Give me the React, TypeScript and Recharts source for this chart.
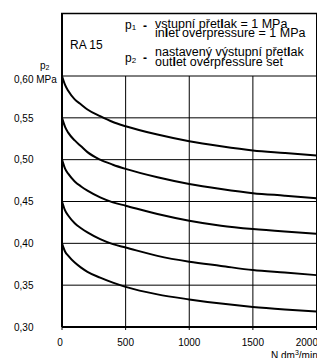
import React from 'react';
import { LineChart, Line, XAxis, YAxis, CartesianGrid } from 'recharts';

const FONT = '"Liberation Sans", Arial, Helvetica, sans-serif';

// flow rate (N dm3/min)
const flow = [0, 25, 50, 100, 150, 200, 300, 400, 500, 750, 1000, 1250, 1500, 1750, 2000];
// outlet pressure p2 (MPa) for each set value
const p060 = [0.600, 0.589, 0.582, 0.572, 0.566, 0.560, 0.552, 0.545, 0.540, 0.530, 0.522, 0.516, 0.511, 0.508, 0.505];
const p055 = [0.550, 0.539, 0.532, 0.523, 0.516, 0.509, 0.500, 0.494, 0.489, 0.479, 0.471, 0.465, 0.460, 0.457, 0.454];
const p050 = [0.500, 0.489, 0.483, 0.474, 0.468, 0.463, 0.455, 0.449, 0.445, 0.435, 0.427, 0.421, 0.417, 0.414, 0.4115];
const p045 = [0.450, 0.439, 0.433, 0.424, 0.418, 0.413, 0.405, 0.399, 0.395, 0.385, 0.378, 0.373, 0.368, 0.365, 0.362];
const p040 = [0.400, 0.390, 0.385, 0.377, 0.371, 0.366, 0.359, 0.353, 0.348, 0.339, 0.333, 0.328, 0.324, 0.321, 0.3185];

const xTicks = [0, 500, 1000, 1500, 2000];
const xTickLabels = ['0', '500', '1000', '1500', '2000'];
const yTicks = [0.3, 0.35, 0.4, 0.45, 0.5, 0.55, 0.6];
const yTickLabels = ['0,30', '0,35', '0,40', '0,45', '0,50', '0,55', '0,60 MPa'];

const seriesKeys = ['p060', 'p055', 'p050', 'p045', 'p040'];
const seriesValues = [p060, p055, p050, p045, p040];

const data = flow.map((f, i) => {
  const row: Record<string, number> = { flow: f };
  seriesKeys.forEach((k, j) => {
    row[k] = seriesValues[j][i];
  });
  return row;
});

const YTick = (props: any) => {
  const { y, payload } = props;
  const idx = yTicks.findIndex((t) => Math.abs(t - payload.value) < 1e-6);
  const label = idx >= 0 ? yTickLabels[idx] : String(payload.value);
  const extra = idx === yTicks.length - 1 ? 2.7 : 0;
  return (
    <text x={14} y={y + 3.8 + extra} fontSize={10} fontFamily={FONT} fill="#000" textAnchor="start">
      {label}
    </text>
  );
};

const XTick = (props: any) => {
  const { x, y, payload } = props;
  const idx = xTicks.indexOf(payload.value);
  const label = idx >= 0 ? xTickLabels[idx] : String(payload.value);
  const isLast = idx === xTicks.length - 1;
  const isFirst = idx === 0;
  return (
    <text
      x={isLast ? 318 : isFirst ? x - 2 : x}
      y={345.5}
      fontSize={10}
      fontFamily={FONT}
      fill="#000"
      textAnchor={isLast ? 'end' : 'middle'}
    >
      {label}
    </text>
  );
};

export default function App() {
  return (
    <div style={{ position: 'absolute', left: 0, top: 0, width: 317, height: 358, background: '#fff' }}>
      <LineChart width={317} height={358} data={data} margin={{ top: 76, right: 0.5, bottom: 0, left: 0 }}>
        <CartesianGrid stroke="#000" strokeWidth={1} />
        <XAxis
          dataKey="flow"
          type="number"
          domain={[0, 2000]}
          ticks={xTicks}
          interval={0}
          height={31}
          axisLine={{ stroke: '#000', strokeWidth: 2 }}
          tickLine={{ stroke: '#000' }}
          tickSize={3}
          tick={<XTick />}
        />
        <YAxis
          type="number"
          domain={[0.3, 0.6]}
          ticks={yTicks}
          interval={0}
          width={62}
          axisLine={{ stroke: '#000', strokeWidth: 2 }}
          tickLine={false}
          tick={<YTick />}
        />
        {seriesKeys.map((k) => (
          <Line
            key={k}
            dataKey={k}
            type="monotone"
            stroke="#000"
            strokeWidth={2}
            dot={false}
            isAnimationActive={false}
          />
        ))}
      </LineChart>
      <svg
        width={317}
        height={358}
        style={{ position: 'absolute', left: 0, top: 0, pointerEvents: 'none' }}
        fontFamily={FONT}
      >
        <line x1={62} y1={13} x2={62} y2={76} stroke="#000" strokeWidth={2} />
        <line x1={61} y1={13.5} x2={317} y2={13.5} stroke="#000" strokeWidth={1.5} />
        <line x1={316.5} y1={13} x2={316.5} y2={76} stroke="#000" strokeWidth={1} />
        <text x={70} y={48.5} fontSize={12}>RA 15</text>
        <text x={125} y={29} fontSize={12}>
          p<tspan fontSize={8} dy={1}>1</tspan>
        </text>
        <text x={143} y={30} fontSize={12} fontWeight="bold">-</text>
        <text x={155} y={27.5} fontSize={12.5}>
          vstupní přet<tspan fontWeight="bold">l</tspan>ak = 1 MPa
        </text>
        <text x={155} y={37.3} fontSize={12.5}>
          in<tspan fontWeight="bold">l</tspan>et overpressure = 1 MPa
        </text>
        <text x={125} y={62} fontSize={12}>
          p<tspan fontSize={8} dy={1}>2</tspan>
        </text>
        <text x={143} y={62} fontSize={12} fontWeight="bold">-</text>
        <text x={155} y={56} fontSize={12.5}>
          nastavený výstupní přet<tspan fontWeight="bold">l</tspan>ak
        </text>
        <text x={155} y={65.7} fontSize={12.5}>
          out<tspan fontWeight="bold">l</tspan>et overpressure set
        </text>
        <text x={40} y={69} fontSize={10}>
          p<tspan fontSize={7} dy={1}>2</tspan>
        </text>
        <text x={271} y={359} fontSize={10}>
          N dm<tspan fontSize={7} dy={-4}>3</tspan><tspan dy={4}>/min</tspan>
        </text>
      </svg>
    </div>
  );
}
